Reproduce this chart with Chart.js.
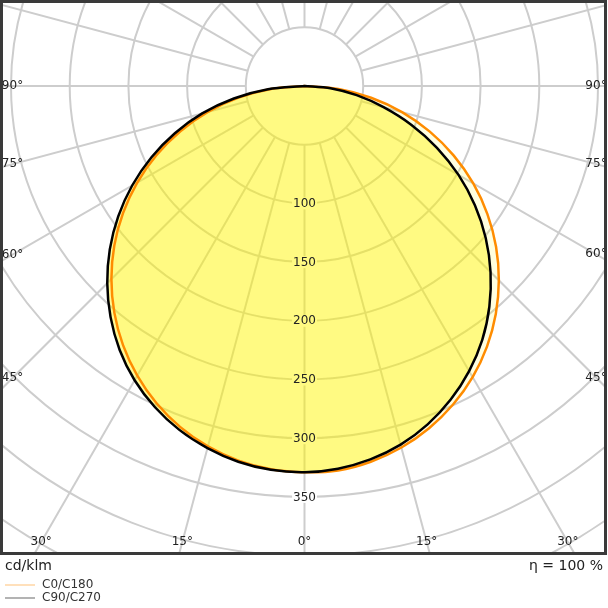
<!DOCTYPE html>
<html>
<head>
<meta charset="utf-8">
<script src="https://cdn.jsdelivr.net/npm/chart.js@4.4.1/dist/chart.umd.min.js"></script>
<style>
html,body{margin:0;padding:0;background:#fff;}
#wrap{position:relative;width:608px;height:608px;}
</style>
</head>
<body>
<div id="wrap"><canvas id="c"></canvas></div>
<script>
// ---- data (cd/klm), gamma measured from nadir, 5° steps ----
const gammaDeg   = [0,5,10,15,20,25,30,35,40,45,50,55,60,65,70,75,80,85,90];
const c0Values   = [330,328.7,325,318.8,310.2,299.4,286.4,271,253.5,234.1,213,190.2,166,140.3,113.6,86,57.6,29,0];
const c180Values = [329,327.7,324,317.8,309.2,298.2,284.9,269.5,252,232.6,211.5,188.7,164.5,139,112.5,85.2,57.1,28.7,0];
const c90Values  = [329,327.2,323,316.3,306.7,294.7,280.4,264,245,224.1,201.5,177.2,151.5,124.5,97,69.7,45.1,22.2,0];
const c270Values = [329,328.2,325,319.3,311.7,301.7,289.4,274.5,257,237.6,216.5,193.7,169.5,144,117.5,90.2,61.1,31.2,0];
const radialTickValues = [100,150,200,250,300,350];
const sideAngleTicks   = [90,75,60,45];
const bottomAngleTicks = [0,15,30];
const seriesNames = ['C0/C180','C90/C270'];
const unitLabel = 'cd/klm';
const efficiencyLabel = 'η = 100 %';

// ---- layout / style constants ----
const STEP = gammaDeg[1] - gammaDeg[0];
const N = 360 / STEP;
const angleLabels = Array.from({length: N}, (_, i) => i * STEP);
const R_MAX = 500, R_STEP = 50, R_INNER = 50;
const PX_PER_CD = 1.174;
const CX_OFF = 301.5, CY_OFF = 83;
const GRID_COLOR = '#cdcdcd', GRID_W = 2;
const FONT = '"DejaVu Sans", Verdana, sans-serif';
const ORANGE = '#ff8c00';

function ring(left, right) {
  const half = left.length - 1;
  return Array.from({length: N}, (_, i) =>
    i <= half ? left[i] : (i >= N - half ? right[N - i] : 0));
}

const polarDecor = {
  id: 'polarDecor',
  beforeDraw(chart) {
    const {ctx, chartArea: a} = chart;
    const s = chart.scales.r;
    ctx.save();
    ctx.beginPath();
    ctx.rect(a.left, a.top, a.right - a.left, a.bottom - a.top);
    ctx.clip();
    ctx.strokeStyle = GRID_COLOR;
    ctx.lineWidth = GRID_W;
    chart.data.labels.forEach((deg, i) => {
      if (deg % 15 !== 0) return;
      const p0 = s.getPointPositionForValue(i, R_INNER);
      const p1 = s.getPointPositionForValue(i, s.max);
      ctx.beginPath(); ctx.moveTo(p0.x, p0.y); ctx.lineTo(p1.x, p1.y); ctx.stroke();
    });
  },
  afterDatasetsDraw(chart) {
    const {ctx} = chart;
    const s = chart.scales.r;
    const insideLimit = Math.min(c0Values[0], c90Values[0], c180Values[0], c270Values[0]);
    ctx.font = '12px ' + FONT;
    ctx.textAlign = 'center';
    ctx.textBaseline = 'middle';
    radialTickValues.forEach(v => {
      const p = s.getPointPositionForValue(0, v);
      const txt = String(v);
      const w = ctx.measureText(txt).width;
      ctx.fillStyle = v < insideLimit ? 'rgb(255,250,130)' : '#ffffff';
      ctx.fillRect(p.x - w / 2 - 1, p.y - 6, w + 2, 12);
      ctx.fillStyle = '#222';
      ctx.fillText(txt, p.x, p.y + 0.5);
    });
    ctx.restore();
  },
  afterDraw(chart) {
    const {ctx, chartArea: a} = chart;
    const s = chart.scales.r;
    const xc = s.xCenter, yc = s.yCenter;
    const dir = i => {
      const p = s.getPointPositionForValue(((i % N) + N) % N, 100);
      return {x: p.x - xc, y: p.y - yc};
    };
    ctx.save();
    ctx.font = '12px ' + FONT;
    ctx.fillStyle = '#222';
    ctx.textAlign = 'center';
    ctx.textBaseline = 'middle';
    const leftX = a.left + 9.5, rightX = a.right - 8;
    sideAngleTicks.forEach(g => {
      const ul = dir(g / STEP);
      const tl = (leftX - xc) / ul.x;
      ctx.fillText(g + '°', leftX, yc + ul.y * tl);
      const ur = dir(N - g / STEP);
      const tr = (rightX - xc) / ur.x;
      ctx.fillText(g + '°', rightX, yc + ur.y * tr);
    });
    const by = a.bottom - 10;
    bottomAngleTicks.forEach(g => {
      const idxs = g === 0 ? [0] : [g / STEP, N - g / STEP];
      idxs.forEach(i => {
        const u = dir(i);
        const t = (by - yc) / u.y;
        ctx.fillText(g + '°', xc + u.x * t, by);
      });
    });
    // frame
    ctx.strokeStyle = '#3a3a3a';
    ctx.lineWidth = 3;
    ctx.strokeRect(a.left - 1.5, a.top - 1.5, (a.right - a.left) + 3, (a.bottom - a.top) + 3);
    // footer
    ctx.font = '14px ' + FONT;
    ctx.fillStyle = '#222';
    ctx.textAlign = 'left';
    ctx.fillText(unitLabel, 5, 566);
    ctx.textAlign = 'right';
    ctx.fillText(efficiencyLabel, 603, 566);
    // legend
    const legendColors = ['rgba(255,140,0,0.45)', 'rgba(0,0,0,0.5)'];
    ctx.font = '12px ' + FONT;
    ctx.textAlign = 'left';
    ctx.fillStyle = '#333';
    seriesNames.forEach((name, k) => {
      const y = 585 + k * 13;
      ctx.strokeStyle = legendColors[k];
      ctx.lineWidth = 1.2;
      ctx.beginPath(); ctx.moveTo(5, y); ctx.lineTo(35, y); ctx.stroke();
      ctx.fillText(name, 42, y);
    });
    ctx.restore();
  }
};

new Chart(document.getElementById('c'), {
  type: 'radar',
  data: {
    labels: angleLabels,
    datasets: [
      {
        label: seriesNames[0],
        data: ring(c180Values, c0Values),
        borderColor: ORANGE,
        borderWidth: 2.5,
        backgroundColor: 'rgba(255,255,0,0.12)',
        fill: true,
        pointRadius: 0,
        pointHitRadius: 0,
        tension: 0.3,
        order: 2
      },
      {
        label: seriesNames[1],
        data: ring(c270Values, c90Values),
        borderColor: '#000000',
        borderWidth: 2.5,
        backgroundColor: 'rgba(255,243,0,0.42)',
        fill: true,
        pointRadius: 0,
        pointHitRadius: 0,
        tension: 0.3,
        order: 1
      }
    ]
  },
  options: {
    responsive: true,
    maintainAspectRatio: false,
    animation: false,
    events: [],
    layout: {padding: {left: 3, top: 3, right: 4, bottom: 56}},
    plugins: {
      legend: {display: false},
      tooltip: {enabled: false},
      filler: {drawTime: 'beforeDatasetsDraw'}
    },
    scales: {
      r: {
        type: 'radialLinear',
        min: 0,
        max: R_MAX,
        startAngle: 180,
        ticks: {display: false, stepSize: R_STEP},
        pointLabels: {display: false},
        angleLines: {display: false},
        grid: {circular: true, color: GRID_COLOR, lineWidth: GRID_W},
        afterFit(scale) {
          scale.xCenter = scale.left + CX_OFF;
          scale.yCenter = scale.top + CY_OFF;
          scale.drawingArea = R_MAX * PX_PER_CD;
        }
      }
    }
  },
  plugins: [polarDecor]
});
</script>
</body>
</html>
